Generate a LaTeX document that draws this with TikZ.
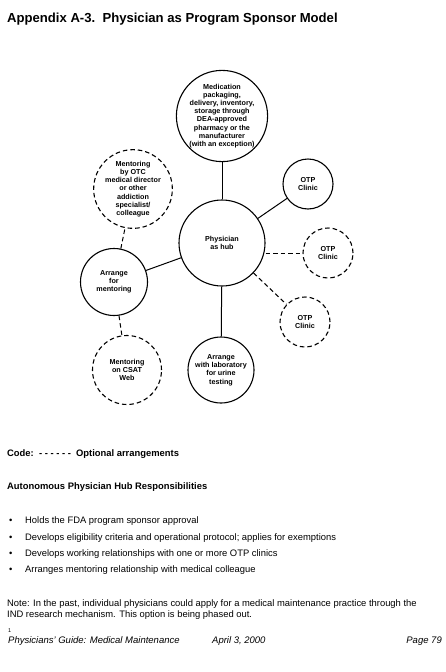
\documentclass[tikz,border=0pt]{standalone}
\usepackage{fontspec}
\setmainfont{Liberation Sans}
\begin{document}
\begin{tikzpicture}[x=1pt,y=-1pt,
  solidc/.style={circle,draw,line width=1.1pt,inner sep=0pt,align=center,font=\fontsize{7.2}{8.2}\selectfont\bfseries},
  dashc/.style={solidc,dash pattern=on 4.5pt off 3pt},
  link/.style={line width=1pt},
  dlink/.style={line width=1pt,dash pattern=on 4.5pt off 3pt},
  txt/.style={anchor=base west,inner sep=0pt,font=\fontsize{9.4}{11}\selectfont},
  btxt/.style={txt,font=\fontsize{9.4}{11}\selectfont\bfseries}]
\useasboundingbox (0,0) rectangle (446,672);
\node[anchor=base west,inner sep=0pt,font=\fontsize{13.1}{15}\selectfont\bfseries] (title) at (7,22) {Appendix A-3.\ \ Physician as Program Sponsor Model};
% circles
\node[solidc,minimum size=86pt] (hub) at (222,243) {Physician\\as hub};
\node[solidc,minimum size=90pt] (med) at (222,116) {Medication\\packaging,\\delivery, inventory,\\storage through\\DEA-approved\\pharmacy or the\\manufacturer\\(with an exception)};
\node[solidc,minimum size=50pt] (otp1) at (308,184) {OTP\\Clinic};
\node[dashc,minimum size=50pt] (otp2) at (328,253) {OTP\\Clinic};
\node[dashc,minimum size=50pt] (otp3) at (305,322) {OTP\\Clinic};
\node[dashc,minimum size=68pt] (otc) at (133,189) {Mentoring\\by OTC\\medical director\\or other\\addiction\\specialist/\\colleague};
\node[solidc,minimum size=67pt] (arr) at (114,282) {Arrange\\for\\mentoring};
\node[dashc,minimum size=69pt] (csat) at (127,370) {Mentoring\\on CSAT\\Web};
\node[solidc,minimum size=66pt] (lab) at (221,370) {Arrange\\with laboratory\\for urine\\testing};
% connectors
\draw[link] (hub) -- (med);
\draw[link] (hub) -- (otp1);
\draw[dlink] (hub.east |- otp2) -- (otp2);
\draw[dlink] (hub) -- (otp3);
\draw[link] (hub) -- (arr);
\draw[link] (hub) -- (lab);
\draw[dlink] (arr) -- (otc);
\draw[dlink] (arr) -- (csat);
% text
\node[btxt] (code) at (7,456) {Code:\ \ - - - - - -\ \ Optional arrangements};
\node[btxt] (auto) at (7,489) {Autonomous Physician Hub Responsibilities};
\foreach \y/\t [count=\i] in {523/Holds the FDA program sponsor approval,
  540/{Develops eligibility criteria and operational protocol; applies for exemptions},
  556/Develops working relationships with one or more OTP clinics,
  572/Arranges mentoring relationship with medical colleague}{
  \node[txt] (bul\i) at (9,\y) {•};
  \node[txt] (item\i) at (25,\y) {\t};
}
\node[txt] (note1) at (7,606) {Note: In the past, individual physicians could apply for a medical maintenance practice through the};
\node[txt] (note2) at (7,617) {IND research mechanism. This option is being phased out.};
\node[txt,font=\fontsize{5.5}{6}\selectfont] (fn) at (8,632) {1};
\node[txt,font=\fontsize{9.5}{11}\selectfont\itshape] (foot1) at (8,643) {Physicians' Guide: Medical Maintenance};
\node[txt,font=\fontsize{9.5}{11}\selectfont\itshape] (foot2) at (212,643) {April 3, 2000};
\node[anchor=base east,inner sep=0pt,font=\fontsize{9.5}{11}\selectfont\itshape] (foot3) at (442,643) {Page 79};
\end{tikzpicture}
\end{document}
